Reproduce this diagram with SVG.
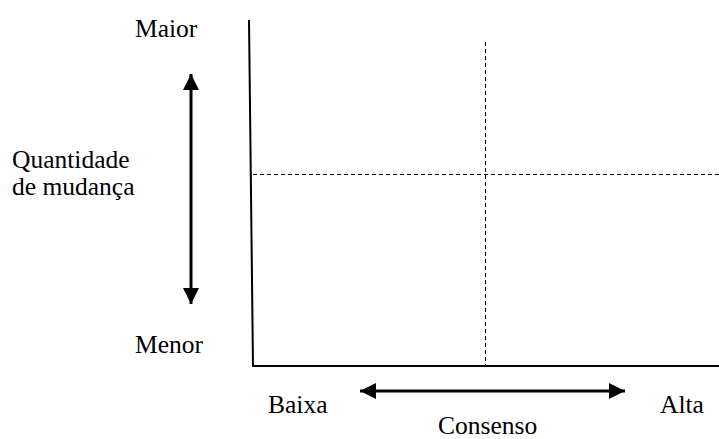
<svg xmlns="http://www.w3.org/2000/svg" width="719" height="439" viewBox="0 0 719 439">
<style>
.ax{stroke:#000;stroke-width:2;fill:none}
.ds{stroke:#000;stroke-width:1;stroke-dasharray:4,3;fill:none}
.ar{stroke:#000;stroke-width:3;fill:none}
</style>
<defs>
<marker id="ah" viewBox="0 0 10 10" refX="10" refY="5" markerWidth="16" markerHeight="16" markerUnits="userSpaceOnUse" orient="auto-start-reverse"><path d="M0,0L10,5L0,10Z" fill="#000"/></marker>
</defs>
<g id="axes">
<path class="ax" d="M249,20L253,366H719"/>
</g>
<g id="connectors">
<path class="ds" d="M253,174.5H719"/>
<path class="ds" d="M485.5,42V366"/>
<path class="ar" d="M191,74V304" marker-start="url(#ah)" marker-end="url(#ah)"/>
<path class="ar" d="M360,391H625" marker-start="url(#ah)" marker-end="url(#ah)"/>
</g>
<g id="labels">
<text x="135" y="37" style="font-family:'Liberation Serif','Times New Roman',serif;font-size:25.5px">Maior</text>
<text x="12" y="168" style="font-family:'Liberation Serif','Times New Roman',serif;font-size:25.5px">Quantidade</text>
<text x="12" y="195" style="font-family:'Liberation Serif','Times New Roman',serif;font-size:25.5px">de mudança</text>
<text x="135" y="353" style="font-family:'Liberation Serif','Times New Roman',serif;font-size:25.5px">Menor</text>
<text x="268" y="413" style="font-family:'Liberation Serif','Times New Roman',serif;font-size:25.5px">Baixa</text>
<text x="660" y="413" style="font-family:'Liberation Serif','Times New Roman',serif;font-size:25.5px">Alta</text>
<text x="438" y="434" style="font-family:'Liberation Serif','Times New Roman',serif;font-size:25.5px">Consenso</text>
</g>
</svg>
